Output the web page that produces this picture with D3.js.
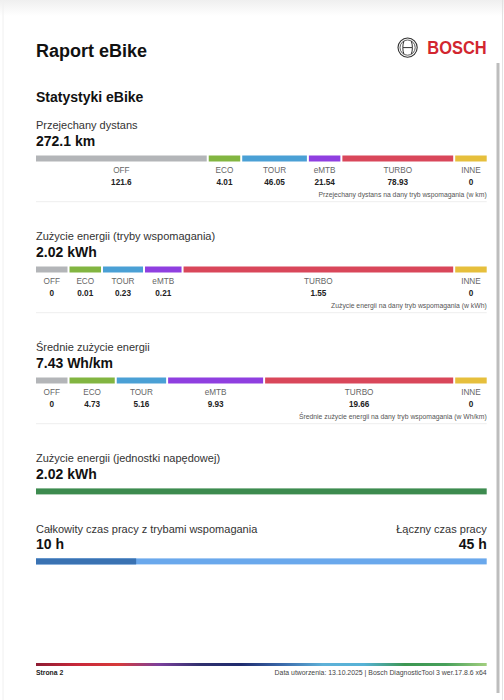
<!DOCTYPE html>
<html>
<head>
<meta charset="utf-8">
<script src="https://cdn.jsdelivr.net/npm/d3@7"></script>
<style>
  html, body { margin: 0; padding: 0; background: #fff; }
  svg { display: block; font-family: "Liberation Sans", Arial, Helvetica, sans-serif; }
</style>
</head>
<body>
<div id="chart"></div>
<script>
// ---------- data ----------
const modes = ["OFF", "ECO", "TOUR", "eMTB", "TURBO", "INNE"];
const modeColors = ["#b3b5b8", "#82b541", "#4aa0d5", "#8f3fe0", "#d9475a", "#e6bf3c"];

const distanceValues = [121.6, 4.01, 46.05, 21.54, 78.93, 0];
const energyValues = [0, 0.01, 0.23, 0.21, 1.55, 0];
const avgEnergyValues = [0, 4.73, 5.16, 9.93, 19.66, 0];

const sectionTitles = [
  "Przejechany dystans",
  "Zużycie energii (tryby wspomagania)",
  "Średnie zużycie energii"
];
const sectionTotals = ["272.1 km", "2.02 kWh", "7.43 Wh/km"];
const sectionNotes = [
  "Przejechany dystans na dany tryb wspomagania (w km)",
  "Zużycie energii na dany tryb wspomagania (w kWh)",
  "Średnie zużycie energii na dany tryb wspomagania (w Wh/km)"
];
const sectionValues = [distanceValues, energyValues, avgEnergyValues];

const driveUnitTitle = "Zużycie energii (jednostki napędowej)";
const driveUnitEnergy = 2.02;          // kWh
const driveUnitLabel = "2.02 kWh";

const timeTitleLeft = "Całkowity czas pracy z trybami wspomagania";
const timeTitleRight = "Łączny czas pracy";
const assistHours = 10;
const totalHours = 45;

const footerStops = ["#8e1c33", "#c8283a", "#d63a3a", "#7b3f9c", "#30306e", "#1f2b6e", "#3a69aa", "#5eb1d8", "#56b2d6", "#3c9651", "#47a05a", "#a2cf7f"];

// ---------- layout ----------
const W = 504, H = 700;
const X0 = 36, X1 = 486.7;
const svg = d3.select("#chart").append("svg").attr("width", W).attr("height", H);

// page chrome
const defs = svg.append("defs");
const topGrad = defs.append("linearGradient").attr("id", "topShade").attr("x1", 0).attr("x2", 0).attr("y1", 0).attr("y2", 1);
topGrad.append("stop").attr("offset", 0).attr("stop-color", "#efefef");
topGrad.append("stop").attr("offset", 1).attr("stop-color", "#ffffff");
svg.append("rect").attr("x", 0).attr("y", 0).attr("width", W).attr("height", 16).attr("fill", "url(#topShade)");
svg.append("line").attr("x1", 3).attr("x2", 3).attr("y1", 0).attr("y2", H).attr("stroke", "#f0f0f0").attr("stroke-width", 1);
svg.append("line").attr("x1", 502.5).attr("x2", 502.5).attr("y1", 0).attr("y2", H).attr("stroke", "#e2e2e2").attr("stroke-width", 1);
svg.append("rect").attr("x", 496.5).attr("y", 63).attr("width", 3).attr("height", 630).attr("fill", "#bdbdbd");

// header
svg.append("text").attr("x", X0).attr("y", 56.5).attr("font-size", 18).attr("font-weight", "bold").attr("fill", "#111").text("Raport eBike");
svg.append("text").attr("x", X0).attr("y", 101.7).attr("font-size", 14).attr("font-weight", "bold").attr("fill", "#111").text("Statystyki eBike");

// bosch logo
const logo = svg.append("g").attr("transform", "translate(407.6,47.6)");
logo.append("circle").attr("r", 9.6).attr("fill", "none").attr("stroke", "#333").attr("stroke-width", 1.1);
logo.append("circle").attr("r", 7.6).attr("fill", "none").attr("stroke", "#333").attr("stroke-width", 0.8);
logo.append("path").attr("d", "M-3.6,-6.6 C-5.2,-3 -5.2,3 -3.6,6.6 M3.6,-6.6 C5.2,-3 5.2,3 3.6,6.6 M-4.6,0 H4.6")
  .attr("fill", "none").attr("stroke", "#333").attr("stroke-width", 1);
svg.append("text").attr("x", 486.7).attr("y", 54.3).attr("text-anchor", "end").attr("font-size", 18.5)
  .attr("font-weight", "bold").attr("fill", "#d2262f").attr("textLength", 59.4).attr("lengthAdjust", "spacingAndGlyphs").text("BOSCH");

// segmented bar layout: minimum width per segment, rest proportional
function segmentLayout(values, total, gap, minW) {
  const n = values.length;
  const avail = total - gap * (n - 1);
  const fixed = new Array(n).fill(false);
  let changed = true, scale;
  while (changed) {
    changed = false;
    const nFixed = fixed.filter(Boolean).length;
    const freeSum = d3.sum(values.filter((v, i) => !fixed[i]));
    scale = d3.scaleLinear().domain([0, freeSum]).range([0, avail - nFixed * minW]);
    values.forEach((v, i) => {
      if (!fixed[i] && scale(v) < minW) { fixed[i] = true; changed = true; }
    });
  }
  let x = X0;
  return values.map((v, i) => {
    const w = fixed[i] ? minW : scale(v);
    const seg = { x: x, w: w, v: v, i: i };
    x += w + gap;
    return seg;
  });
}

const sectionOffsets = [0, 111, 222];
sectionValues.forEach((vals, s) => {
  const g = svg.append("g").attr("transform", `translate(0,${sectionOffsets[s]})`);
  g.append("text").attr("x", X0).attr("y", 129).attr("font-size", 11).attr("fill", "#333").text(sectionTitles[s]);
  g.append("text").attr("x", X0).attr("y", 145.7).attr("font-size", 14).attr("font-weight", "bold").attr("fill", "#111").text(sectionTotals[s]);
  const segs = segmentLayout(vals, X1 - X0, 2, 31.5);
  g.selectAll("rect.seg").data(segs).enter().append("rect")
    .attr("class", "seg")
    .attr("x", d => d.x).attr("y", 155.5).attr("width", d => d.w).attr("height", 6)
    .attr("fill", d => modeColors[d.i]);
  g.selectAll("text.lab").data(segs).enter().append("text")
    .attr("class", "lab").attr("x", d => d.x + d.w / 2).attr("y", 173)
    .attr("text-anchor", "middle").attr("font-size", 8.2).attr("fill", "#666")
    .text(d => modes[d.i]);
  g.selectAll("text.val").data(segs).enter().append("text")
    .attr("class", "val").attr("x", d => d.x + d.w / 2).attr("y", 185)
    .attr("text-anchor", "middle").attr("font-size", 8.2).attr("font-weight", "bold").attr("fill", "#222")
    .text(d => String(d.v));
  g.append("text").attr("x", X1).attr("y", 197.3).attr("text-anchor", "end").attr("font-size", 6.8).attr("fill", "#555").text(sectionNotes[s]);
  g.append("line").attr("x1", X0).attr("x2", X1).attr("y1", 201.7).attr("y2", 201.7).attr("stroke", "#eeeeee").attr("stroke-width", 1);
});

// drive unit energy
const yDU = 333;
svg.append("text").attr("x", X0).attr("y", 129 + yDU).attr("font-size", 11).attr("fill", "#333").text(driveUnitTitle);
svg.append("text").attr("x", X0).attr("y", 145.7 + yDU).attr("font-size", 14).attr("font-weight", "bold").attr("fill", "#111").text(driveUnitLabel);
const duScale = d3.scaleLinear().domain([0, driveUnitEnergy]).range([X0, X1]);
svg.append("rect").attr("x", duScale(0)).attr("y", 488.4).attr("width", duScale(driveUnitEnergy) - duScale(0)).attr("height", 6).attr("fill", "#3d8b4f");

// operating time
const yT = 403.5;
svg.append("text").attr("x", X0).attr("y", 129 + yT).attr("font-size", 11).attr("fill", "#333").text(timeTitleLeft);
svg.append("text").attr("x", X1).attr("y", 129 + yT).attr("text-anchor", "end").attr("font-size", 11).attr("fill", "#333").text(timeTitleRight);
svg.append("text").attr("x", X0).attr("y", 145.7 + yT).attr("font-size", 14).attr("font-weight", "bold").attr("fill", "#111").text(assistHours + " h");
svg.append("text").attr("x", X1).attr("y", 145.7 + yT).attr("text-anchor", "end").attr("font-size", 14).attr("font-weight", "bold").attr("fill", "#111").text(totalHours + " h");
const tScale = d3.scaleLinear().domain([0, totalHours]).range([X0, X1]);
svg.append("rect").attr("x", tScale(0)).attr("y", 558.4).attr("width", tScale(totalHours) - tScale(0)).attr("height", 6).attr("fill", "#6aa8ec");
svg.append("rect").attr("x", tScale(0)).attr("y", 558.4).attr("width", tScale(assistHours) - tScale(0)).attr("height", 6).attr("fill", "#3a72b2");

// footer
const fGrad = defs.append("linearGradient").attr("id", "footGrad").attr("x1", 0).attr("x2", 1).attr("y1", 0).attr("y2", 0);
footerStops.forEach((c, i) => fGrad.append("stop").attr("offset", i / (footerStops.length - 1)).attr("stop-color", c));
svg.append("rect").attr("x", X0).attr("y", 663).attr("width", X1 - X0).attr("height", 3).attr("fill", "url(#footGrad)");
svg.append("text").attr("x", X0).attr("y", 674.8).attr("font-size", 6.8).attr("font-weight", "bold").attr("fill", "#222").text("Strona 2");
svg.append("text").attr("x", X1).attr("y", 674.8).attr("text-anchor", "end").attr("font-size", 6.9).attr("fill", "#444")
  .text("Data utworzenia: 13.10.2025 | Bosch DiagnosticTool 3 wer.17.8.6 x64");
</script>
</body>
</html>
